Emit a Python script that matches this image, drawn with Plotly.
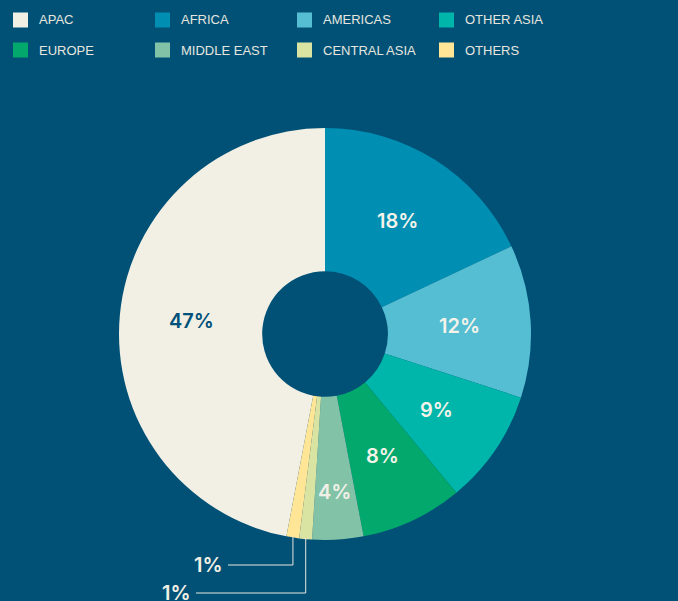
import math
import plotly.graph_objects as go

# ---- data ----
regions = ["APAC", "AFRICA", "AMERICAS", "OTHER ASIA", "EUROPE",
           "MIDDLE EAST", "CENTRAL ASIA", "OTHERS"]
shares = [47, 18, 12, 9, 8, 4, 1, 1]
colors = ["#F2F0E5", "#008FB2", "#56BED3", "#00B6AA", "#03A86D",
          "#82C3A8", "#D9E4A2", "#FFE596"]
label_colors = ["#01527A", "#F5F3EA", "#F5F3EA", "#F5F3EA", "#F5F3EA",
                "#F0F0E6", "#F5F3EA", "#F5F3EA"]
callout_regions = ["OTHERS", "CENTRAL ASIA"]

# ---- layout constants (pixels) ----
W, H = 678, 601
BG = "#015177"
CX, CY, R = 325, 334, 206
HOLE = 0.305
total = sum(shares)
# first slice (APAC) starts after the small slices so that AFRICA starts at 12 o'clock
rotation = 360 * (total - shares[0]) / total

fig = go.Figure(go.Pie(
    labels=regions,
    values=shares,
    textinfo="none",
    marker=dict(colors=colors, line=dict(width=0)),
    hole=HOLE,
    sort=False,
    direction="clockwise",
    rotation=rotation,
    hoverinfo="label+percent",
    showlegend=False,
    domain=dict(x=[(CX - R) / W, (CX + R) / W],
                y=[1 - (CY + R) / H, 1 - (CY - R) / H]),
))

shapes, annotations = [], []
LABEL_FONT = dict(size=20, family="Inter", weight=600)

# ---- legend (2 rows x 4 columns) built from regions / colors ----
LEG_X0, LEG_DX = 13, 142
LEG_Y0, LEG_DY = 20, 30
SW = 15
for i, (r, c) in enumerate(zip(regions, colors)):
    col, row = i % 4, i // 4
    x = LEG_X0 + col * LEG_DX
    y = LEG_Y0 + row * LEG_DY
    shapes.append(dict(type="rect", xref="paper", yref="paper",
                       x0=x / W, x1=(x + SW) / W,
                       y0=1 - (y - SW / 2) / H, y1=1 - (y + SW / 2) / H,
                       fillcolor=c, line=dict(width=0)))
    annotations.append(dict(x=(x + SW + 9) / W, y=1 - y / H, xref="paper", yref="paper",
                            text=r, showarrow=False, xanchor="left", yanchor="middle",
                            font=dict(color="#E6E6DF", size=13, family="Liberation Sans")))

# ---- slice mid angles ----
cum = 0.0
angles = {}
for r, v in zip(regions, shares):
    start = rotation + 360 * cum / total
    mid = start + 360 * v / total / 2
    angles[r] = math.radians(mid % 360)
    cum += v

# ---- percentage labels inside the ring ----
r_mid = (R * HOLE + R) / 2
for r, v, lc in zip(regions, shares, label_colors):
    if r in callout_regions:
        continue
    a = angles[r]
    rl = r_mid if v >= 5 else 0.77 * R
    px = CX + rl * math.sin(a)
    py = CY - rl * math.cos(a)
    annotations.append(dict(x=px / W, y=1 - py / H, xref="paper", yref="paper",
                            text=f"{v}%", showarrow=False, xanchor="center", yanchor="middle",
                            font=dict(color=lc, **LABEL_FONT)))

# ---- callouts for the tiny slices ----
drops = [231, 259]       # vertical line end below centre (px)
ends = [228, 196]        # x where horizontal line ends (px)
for r, dy, xe in zip(callout_regions, drops, ends):
    a = angles[r]
    x0 = CX + (R - 1) * math.sin(a)
    y0 = CY - (R - 1) * math.cos(a)
    y1 = CY + dy
    path = f"M{x0/W},{1-y0/H} L{x0/W},{1-y1/H} L{xe/W},{1-y1/H}"
    shapes.append(dict(type="path", xref="paper", yref="paper", path=path,
                       line=dict(color="#E8E6DC", width=1)))
    v = shares[regions.index(r)]
    annotations.append(dict(x=(xe - 3) / W, y=1 - y1 / H, xref="paper", yref="paper",
                            text=f"{v}%", showarrow=False, xanchor="right", yanchor="middle",
                            font=dict(color="#F2F0E5", **LABEL_FONT)))

fig.update_layout(
    width=W, height=H,
    paper_bgcolor=BG, plot_bgcolor=BG,
    margin=dict(l=0, r=0, t=0, b=0),
    shapes=shapes, annotations=annotations,
    showlegend=False,
)

fig.write_html("out.html", config={"displayModeBar": False},
               post_script="document.body.style.margin='0';document.body.style.overflow='hidden';")
